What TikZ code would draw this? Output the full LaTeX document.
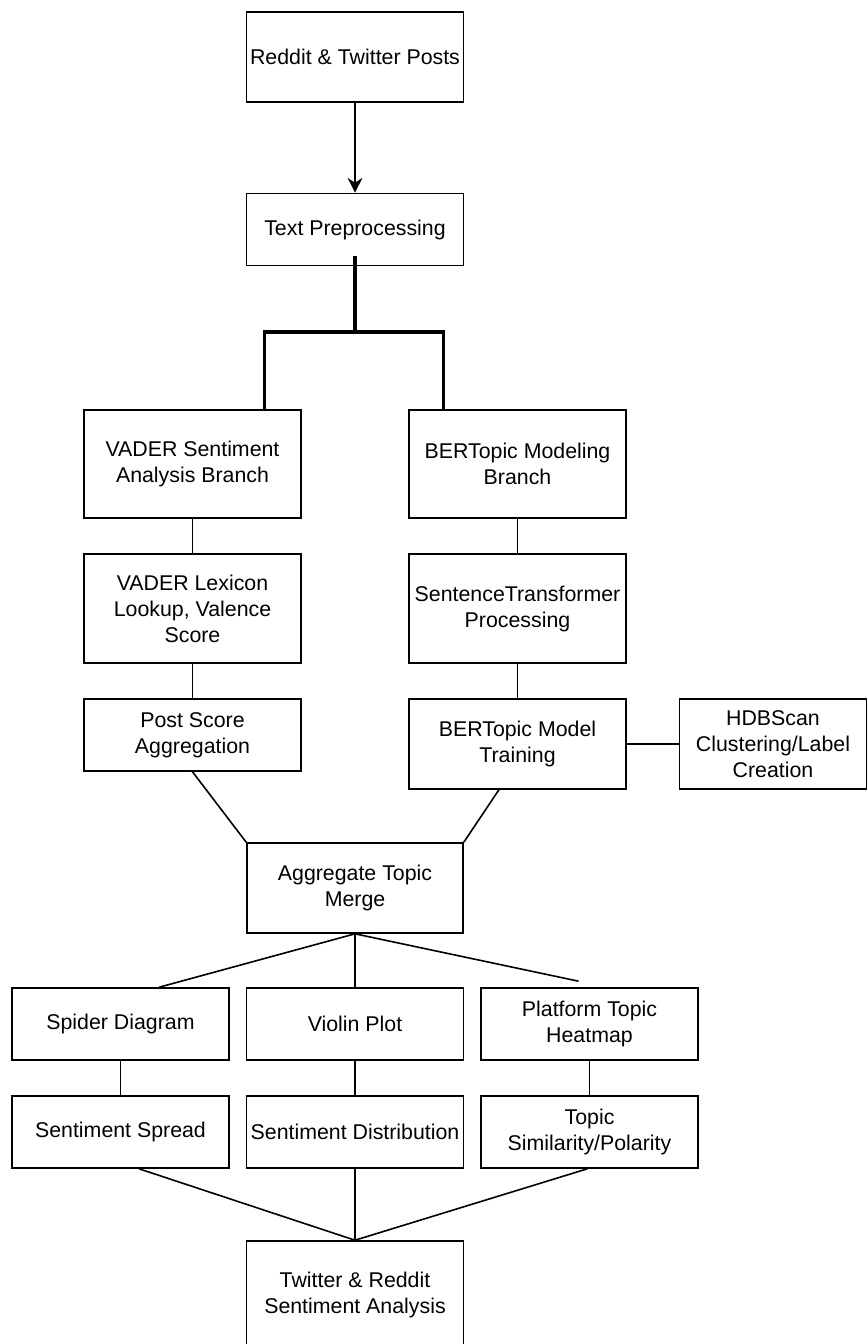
\documentclass[tikz,border=0pt]{standalone}
\usepackage{fontspec}
\setmainfont{Liberation Sans}
\usepackage{tikz}
\usetikzlibrary{arrows}
\usetikzlibrary{arrows.meta}
\usetikzlibrary{calc}
\usetikzlibrary{positioning}

\begin{document}
\begin{tikzpicture}[x=0.75pt, y=-0.75pt, line width=1.2pt, >={Stealth[length=11pt,width=11pt,inset=3.5pt]}]
\tikzstyle{block} = [draw=black, text=black, inner sep=0pt, align=center, minimum width=162.75pt, font=\fontsize{16}{19.5}\selectfont]
\tikzstyle{trunk} = [line width=2.4pt]

\useasboundingbox (0,0) rectangle (867,1344);

% input and preprocessing
\node[block, minimum height=67.5pt] (posts) at (355,57) {Reddit \& Twitter Posts};
\node[block, minimum height=54pt] (prep) at (355,229.5) {Text Preprocessing};

% the two branches
\node[block, minimum height=81pt] (vader) at (192.5,464) {VADER Sentiment\\Analysis Branch};
\node[block, minimum height=81pt] (bert) at (517.5,464) {BERTopic Modeling\\Branch};
\node[block, minimum height=81.75pt] (lex) at (192.5,608.5) {VADER Lexicon\\Lookup, Valence\\Score};
\node[block, minimum height=81.75pt] (sent) at (517.5,608.5) {SentenceTransformer\\Processing};
\node[block, minimum height=54pt] (agg) at (192.5,735) {Post Score\\Aggregation};
\node[block, minimum height=67.5pt] (train) at (517.5,744) {BERTopic Model\\Training};
\node[block, minimum height=67.5pt, minimum width=140.25pt] (hdb) at (773,744) {HDBScan\\Clustering/Label\\Creation};

% merge and outputs
\node[block, minimum height=67.5pt, minimum width=162pt] (merge) at (355,888) {Aggregate Topic\\Merge};
\node[block, minimum height=54pt] (spider) at (120.5,1024) {Spider Diagram};
\node[block, minimum height=54pt] (violin) at (355,1024) {Violin Plot};
\node[block, minimum height=54pt] (heat) at (589.5,1024) {Platform Topic\\Heatmap};
\node[block, minimum height=54pt] (spread) at (120.5,1132) {Sentiment Spread};
\node[block, minimum height=54pt] (dist) at (355,1132) {Sentiment Distribution};
\node[block, minimum height=54pt] (sim) at (589.5,1132) {Topic\\Similarity/Polarity};
\node[block, minimum height=81pt] (final) at (355,1295) {Twitter \& Reddit\\Sentiment Analysis};

\coordinate (split) at (355,332);
\coordinate (vin) at ($(vader.north west)!0.83!(vader.north east)$);
\coordinate (bin) at ($(bert.north west)!0.16!(bert.north east)$);
\coordinate (heattop) at ([yshift=4.5pt]$(heat.north west)!0.45!(heat.north east)$);

\draw[->] (posts) -- (prep);
\draw[trunk] ([yshift=7.5pt]prep.south) -- (split);
\draw[trunk] (split) -| (vin);
\draw[trunk] (split) -| (bin);

\draw (vader) -- (lex);
\draw (lex) -- (agg);
\draw (bert) -- (sent);
\draw (sent) -- (train);
\draw (train) -- (hdb);

\draw (agg.south) -- (merge.north west);
\draw ($(train.south west)!0.415!(train.south east)$) -- (merge.north east);

\draw (merge.south) -- ($(spider.north west)!0.677!(spider.north east)$);
\draw (merge.south) -- (violin.north);
\draw (merge.south) -- (heattop);

\draw (spider) -- (spread);
\draw (violin) -- (dist);
\draw (heat) -- (sim);

\draw ($(spread.south west)!0.585!(spread.south east)$) -- (final.north);
\draw (dist.south) -- (final.north);
\draw ($(sim.south west)!0.49!(sim.south east)$) -- (final.north);

\end{tikzpicture}
\end{document}
